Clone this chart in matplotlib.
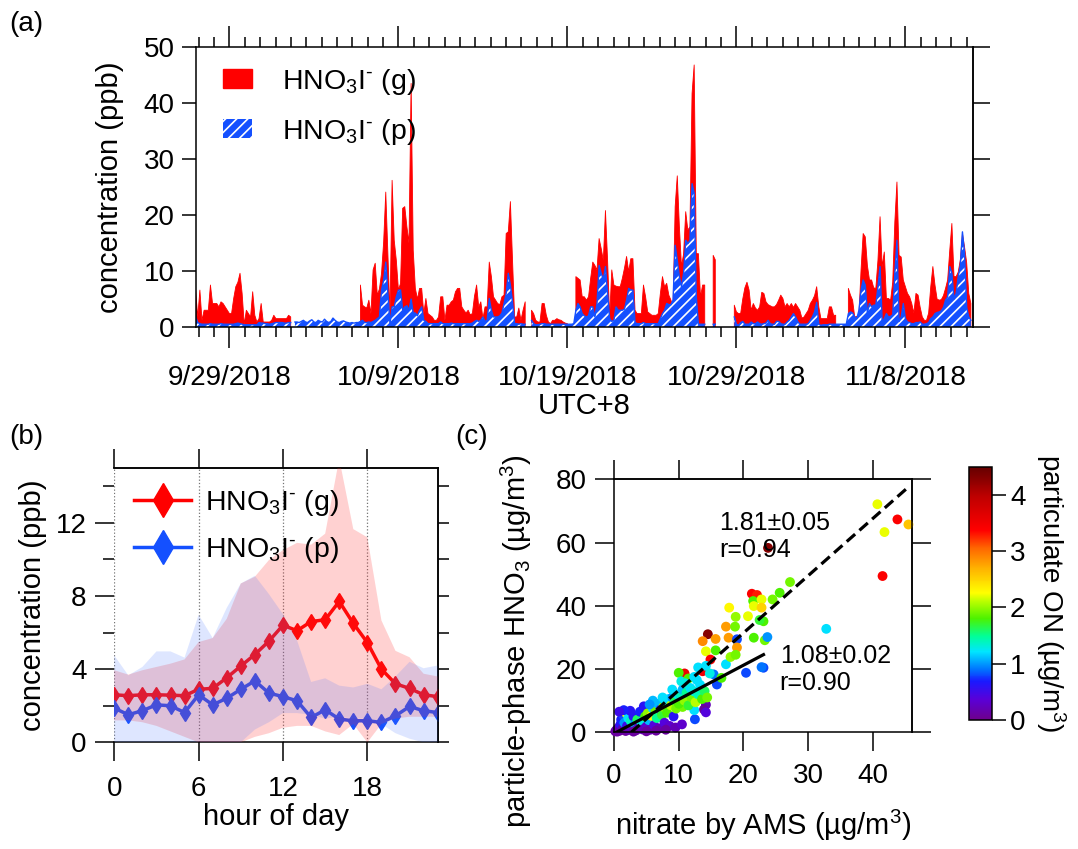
import numpy as np
import pandas as pd
import matplotlib
matplotlib.use('Agg')
import matplotlib.pyplot as plt
import matplotlib.dates as mdates
from matplotlib.colors import LinearSegmentedColormap
from matplotlib.patches import Patch
from matplotlib.lines import Line2D
from matplotlib.ticker import FixedLocator, FuncFormatter
from datetime import datetime

plt.rcParams['font.family'] = ['Liberation Sans', 'DejaVu Sans']
plt.rcParams['mathtext.fontset'] = 'custom'
plt.rcParams['mathtext.rm'] = 'Liberation Sans'
plt.rcParams['mathtext.it'] = 'Liberation Sans:italic'
plt.rcParams['mathtext.bf'] = 'Liberation Sans:bold'
plt.rcParams['font.size'] = 20
plt.rcParams['axes.labelsize'] = 21
plt.rcParams['axes.linewidth'] = 1.1
plt.rcParams['hatch.linewidth'] = 1.2
plt.rcParams['hatch.color'] = 'white'

nan = np.nan

# ---- (a) time series, 3-hourly, one row per day starting 9/27/2018 ----
gas_days = [
    [6.5, 1.8, 6.6, 1.2, 3.0, 3.0, 3.0, 7.5],
    [4.2, 4.2, 4.2, 3.6, 4.5, 4.2, 3.6, 3.0],
    [2.4, 2.4, 5.1, 7.2, 8.0, 9.6, 6.0, 0.5],
    [3.0, 2.4, 1.8, 6.3, 2.1, 0.9, 1.5, 4.2],
    [0.9, 0.9, 0.9, 0.9, 1.2, 2.1, 1.5, 1.5],
    [1.5, 1.5, 1.5, 1.5, 2.1, 1.8, nan, nan],
    [nan, nan, nan, nan, nan, nan, nan, nan],
    [nan, nan, nan, nan, nan, nan, nan, nan],
    [nan, nan, nan, nan, nan, nan, nan, nan],
    [nan, nan, nan, nan, nan, nan, 7.5, 3.9],
    [3.6, 3.4, 4.8, 2.4, 10.2, 11.4, 5.7, 6.8],
    [9.6, 15.2, 24.1, 13.1, 2.4, 26.2, 15.5, 11.9],
    [6.6, 7.8, 21.2, 21.5, 17.9, 15.0, 43.5, 13.7],
    [6.9, 5.0, 6.9, 6.9, 2.4, 5.1, 2.4, 2.1],
    [1.8, 1.2, 1.2, 1.8, 5.4, 5.4, 1.2, 3.9],
    [3.9, 4.5, 4.8, 6.3, 6.9, 6.9, 3.6, 3.0],
    [2.5, 3.0, 2.2, 2.4, 5.5, 7.5, 3.6, 4.5],
    [1.5, 3.6, 3.6, 11.6, 9.0, 5.4, 4.8, 4.2],
    [4.0, 5.4, 5.7, 16.7, 17.0, 22.4, 12.0, 1.8],
    [1.8, 3.4, 1.2, 3.0, 4.5, nan, nan, 3.0],
    [2.4, 1.2, 0.9, 0.9, 4.2, 4.2, 2.1, 0.9],
    [0.6, 1.2, 1.2, 1.5, 1.3, 1.2, 0.9, 0.7],
    [0.6, nan, nan, nan, 9.0, 8.7, 8.4, 5.4],
    [5.4, 4.8, 5.4, 8.7, 11.6, 11.0, 10.2, 15.8],
    [14.0, 11.9, 20.8, 12.0, 1.8, 10.2, 7.5, 7.3],
    [7.2, 7.2, 8.7, 10.5, 12.6, 9.9, 12.2, 12.2],
    [3.0, 2.4, 2.4, 2.4, 7.5, 5.4, 2.7, 2.4],
    [2.1, 2.1, 2.1, 2.4, 6.0, 9.0, 7.2, 7.8],
    [5.7, 4.8, 3.6, 21.5, 27.0, 17.9, 10.8, 13.1],
    [20.6, 17.3, 17.9, 41.7, 46.8, 13.1, 13.1, 5.4],
    [7.5, 7.5, nan, nan, nan, 12.8, 12.0, nan],
    [nan, nan, nan, nan, nan, nan, nan, 3.9],
    [2.7, 2.4, 2.4, 5.0, 7.0, 8.0, 6.6, 3.0],
    [4.2, 3.4, 3.0, 3.6, 6.2, 6.0, 4.5, 4.0],
    [3.8, 3.6, 3.6, 4.0, 4.8, 5.7, 5.1, 3.6],
    [4.2, 3.6, 4.2, 3.5, 4.2, 3.6, 3.0, 1.6],
    [1.8, 2.4, 3.0, 4.2, 4.8, 5.6, 7.2, 3.6],
    [1.5, 1.5, 1.5, 1.5, 3.6, 3.6, 2.1, 2.1],
    [nan, nan, nan, nan, nan, 6.9, 5.7, 4.8],
    [1.8, 1.9, 2.1, 10.2, 16.7, 16.1, 11.0, 8.4],
    [8.4, 7.0, 6.9, 11.9, 19.7, 10.8, 13.4, 5.1],
    [5.1, 4.8, 8.0, 18.8, 25.9, 12.8, 12.5, 8.4],
    [7.2, 6.0, 5.4, 4.2, 2.5, 6.0, 5.7, 3.5],
    [1.8, 1.2, 1.2, 2.5, 7.2, 10.8, 7.5, 5.0],
    [4.8, 4.9, 5.6, 6.9, 8.4, 13.7, 18.5, 9.0],
    [9.0, 9.8, 12.0, 16.7, 14.3, 11.5, 6.0, 4.2],
]
part_days = [
    [1.8, 0.8, 0.6, 0.5, 0.5, 0.5, 0.5, 0.6],
    [0.5, 0.5, 0.5, 0.5, 0.6, 0.5, 0.5, 0.5],
    [0.5, 0.5, 0.5, 0.6, 0.7, 0.6, 0.5, 0.4],
    [0.4, 0.4, 0.4, 0.4, 0.4, 0.4, 0.8, 0.7],
    [0.7, 0.6, 0.6, 0.5, 0.6, 0.7, 0.8, 0.8],
    [0.8, 0.8, 0.7, 0.7, 0.8, 0.8, nan, 0.9],
    [0.9, 0.8, 1.0, 1.2, 0.9, 0.8, 1.1, 1.3],
    [0.9, 0.8, 1.2, 1.0, 0.9, 1.4, 1.0, 0.8],
    [1.0, 1.6, 1.2, 0.9, 0.8, 1.0, 1.1, 0.9],
    [0.8, 0.7, 0.8, 0.7, 0.8, 0.8, 1.0, 1.2],
    [0.8, 0.8, 0.9, 0.8, 1.0, 1.2, 1.5, 1.8],
    [6.6, 8.4, 11.6, 6.0, 0.6, 3.6, 3.6, 5.4],
    [6.6, 6.6, 3.0, 3.6, 3.8, 3.0, 5.0, 2.5],
    [2.5, 2.0, 3.0, 3.6, 1.2, 1.0, 0.6, 0.6],
    [0.6, 0.6, 0.6, 0.6, 0.9, 0.6, 0.6, 0.6],
    [0.6, 0.7, 0.6, 0.6, 0.6, 0.6, 0.6, 0.6],
    [0.6, 0.6, 0.6, 0.7, 1.0, 1.2, 1.0, 1.2],
    [1.8, 1.0, 1.2, 5.1, 3.0, 1.8, 1.8, 1.8],
    [2.0, 2.5, 4.2, 6.0, 9.6, 7.5, 4.5, 0.6],
    [0.6, 0.5, 0.6, 0.5, 0.5, nan, nan, 1.2],
    [0.6, 0.4, 0.4, 0.5, 0.6, 0.6, 0.5, 0.5],
    [0.5, 0.5, 0.5, 0.5, 0.5, 0.5, 0.5, 0.5],
    [0.5, 0.5, 0.5, 0.6, 3.0, 4.2, 3.6, 2.4],
    [2.0, 1.8, 2.0, 3.6, 3.6, 1.8, 4.2, 11.0],
    [9.6, 8.5, 10.8, 6.0, 1.5, 1.0, 1.2, 3.6],
    [3.0, 3.0, 3.0, 3.2, 4.8, 6.9, 6.6, 6.6],
    [0.8, 0.6, 0.6, 0.6, 0.8, 0.6, 0.6, 0.6],
    [0.6, 0.6, 0.6, 0.6, 1.5, 2.4, 3.0, 4.2],
    [4.0, 4.0, 4.8, 14.6, 11.9, 9.0, 7.2, 9.6],
    [15.5, 14.9, 15.5, 25.6, 23.9, 5.4, 0.5, 0.5],
    [0.5, 0.5, nan, nan, nan, 0.5, 0.5, nan],
    [nan, nan, nan, nan, nan, nan, nan, 1.8],
    [0.5, 0.3, 0.8, 1.0, 0.5, 0.5, 0.5, 0.9],
    [0.6, 0.6, 0.9, 0.6, 0.5, 0.6, 0.7, 1.2],
    [0.6, 0.5, 0.5, 1.0, 1.0, 0.6, 0.5, 0.5],
    [0.9, 1.2, 1.8, 2.4, 1.8, 1.0, 0.5, 0.5],
    [0.5, 0.5, 0.6, 1.2, 1.8, 2.7, 4.4, 0.5],
    [0.3, 0.4, 0.4, 0.4, 0.5, 0.5, 0.5, 0.5],
    [0.5, 0.5, 0.5, 0.5, 0.5, 2.4, 2.7, 2.5],
    [1.8, 1.5, 3.0, 6.6, 8.4, 7.5, 2.5, 4.2],
    [3.6, 3.9, 3.9, 7.2, 10.8, 1.0, 1.5, 2.4],
    [1.8, 1.9, 2.2, 9.6, 15.5, 1.0, 1.8, 4.2],
    [1.5, 0.9, 0.8, 0.6, 0.6, 0.8, 0.8, 0.9],
    [0.5, 0.5, 0.6, 0.8, 1.5, 1.8, 2.4, 2.6],
    [2.7, 2.9, 3.5, 4.8, 5.4, 10.8, 9.6, 5.0],
    [6.0, 9.0, 11.0, 17.0, 13.1, 3.5, 1.8, 1.2],
]
date_ticks = ['2018-09-29', '2018-10-09', '2018-10-19', '2018-10-29', '2018-11-08']

# ---- (b) diurnal cycle ----
hours = list(range(24))
gas_mean = [2.6, 2.55, 2.6, 2.6, 2.58, 2.55, 2.9, 2.95, 3.53, 4.17, 4.8, 5.53,
            6.4, 6.1, 6.6, 6.7, 7.7, 6.5, 5.45, 4.0, 3.2, 2.95, 2.6, 2.5]
gas_hi = [3.94, 3.7, 3.94, 4.12, 4.3, 4.53, 5.48, 5.7, 6.75, 8.68, 9.05, 9.96,
          10.5, 10.9, 10.8, 11.4, 15.5, 11.65, 11.2, 6.66, 5.0, 4.65, 3.75, 3.6]
gas_lo = [1.2, 1.2, 1.1, 0.9, 0.6, 0.3, 0.0, 0.0, 0.0, 0.0, 0.3, 0.5,
          0.8, 0.9, 0.9, 0.6, 0.4, 1.0, 0.0, 1.0, 1.3, 1.4, 1.4, 1.4]
part_mean = [1.87, 1.51, 1.73, 2.05, 2.0, 1.63, 2.6, 2.05, 2.41, 2.9, 3.36, 2.69,
             2.5, 2.27, 1.36, 1.78, 1.27, 1.18, 1.18, 1.09, 1.45, 1.96, 1.73, 1.63]
part_hi = [4.75, 3.66, 4.12, 4.97, 4.97, 4.63, 6.97, 5.7, 7.35, 8.68, 9.1, 8.1,
           7.0, 5.57, 3.3, 3.5, 3.1, 3.0, 3.2, 2.9, 3.6, 4.4, 4.05, 4.2]
part_lo = [0, 0, 0, 0, 0, 0, 0, 0, 0, 0, 0.7, 1.1,
           1.6, 1.6, 1.5, 1.3, 1.4, 1.3, 1.3, 1.0, 0.5, 0.2, 0, 0]

# ---- (c) particle-phase HNO3 vs AMS nitrate, coloured by particulate ON ----
ams_no3 = [40.7, 43.8, 45.5, 41.8, 41.5, 23.8, 32.8, 27.2, 25.6, 24.5,
           21.3, 22.1, 21.5, 22.8, 21.6, 22.8, 17.8, 20.7, 18.8, 23.1, 22.5,
           17.3, 18.7, 14.5, 13.7, 15.7, 17.7, 21.6, 23.3, 23.7, 19.0,
           15.7, 14.2, 19.0, 17.3, 18.0, 18.8, 14.9, 13.7, 10.9, 10.0, 10.4, 11.5,
           12.4, 15.4, 15.9, 20.4, 23.1, 22.8, 14.2, 14.8, 16.6, 13.0,
           14.2, 13.9, 14.2, 12.5, 12.4, 10.6, 9.6,
           0.2, 0.4, 0.5, 0.7, 0.9, 1.0, 1.1, 1.3, 1.4, 1.6, 1.8, 1.9, 2.0, 2.2,
           2.4, 2.6, 2.8, 3.0, 3.2, 3.4, 3.6, 3.8, 4.0, 4.2, 4.4, 4.6, 4.8, 5.0,
           5.2, 5.4, 5.6, 5.8, 6.0, 6.2, 6.4, 6.6, 6.8, 7.0, 7.2, 7.4, 7.6, 7.8,
           8.0, 8.2, 8.4, 8.6, 8.8, 9.0, 9.2, 9.4, 9.6, 9.8, 10.0, 10.3, 10.6,
           10.9, 11.2, 11.5, 11.8, 12.0, 12.3, 12.6, 13.0, 13.3, 13.6, 14.0, 14.4,
           8.0, 6.5, 9.5, 10.5, 5.0, 3.0, 7.5, 6.0, 5.5, 9.0, 11.0, 12.8, 2.5,
           1.5, 0.8]
hno3_p = [72.1, 67.3, 65.7, 63.3, 49.4, 58.3, 32.7, 47.5, 44.1, 42.0,
          43.8, 43.4, 41.5, 42.0, 39.9, 39.4, 39.4, 36.7, 36.5, 35.1, 35.5,
          33.4, 33.4, 31.0, 28.8, 29.5, 29.9, 29.9, 29.1, 30.1, 29.4,
          25.9, 25.6, 26.8, 21.5, 23.8, 24.5, 23.0, 19.3, 18.6, 18.8, 16.1, 17.0,
          17.5, 18.3, 15.1, 18.8, 20.4, 20.6, 21.0, 18.6, 17.2, 20.5,
          8.7, 7.2, 6.3, 4.1, 7.0, 8.0, 9.0,
          0.3, 0.8, 0.2, 1.5, 0.5, 2.5, 4.0, 1.0, 5.5, 3.0, 0.4, 6.0, 2.0, 4.5,
          0.8, 3.5, 1.2, 5.0, 2.5, 0.6, 4.0, 1.5, 6.5, 3.2, 0.9, 8.2, 5.0, 1.8,
          6.0, 3.8, 0.8, 5.2, 7.5, 2.2, 6.8, 4.5, 9.0, 1.2, 7.2, 5.5, 8.0, 3.0,
          9.5, 6.2, 10.5, 2.0, 8.5, 11.0, 5.0, 10.0, 7.5, 12.0, 9.0, 11.5, 13.5,
          10.0, 12.5, 8.5, 14.0, 11.0, 13.0, 9.5, 12.0, 15.0, 10.5, 13.0, 11.0,
          0.8, 0.5, 1.5, 2.5, 0.3, 0.2, 11.0, 10.0, 8.8, 13.5, 15.5, 16.5, 6.8,
          7.0, 6.5]
part_on = [2.2, 3.4, 2.6, 2.2, 3.4, 4.3, 1.2, 1.9, 1.8, 1.9,
           3.4, 3.3, 1.8, 2.2, 2.2, 2.5, 2.3, 2.2, 2.0, 1.8, 1.7,
           2.8, 1.9, 4.3, 2.9, 2.8, 2.8, 1.8, 1.9, 1.0, 0.8,
           1.8, 2.2, 2.8, 1.2, 2.0, 1.9, 3.4, 3.5, 3.5, 1.8, 1.3, 1.8,
           1.2, 0.9, 0.8, 0.8, 0.8, 0.9, 1.2, 1.3, 1.8, 1.2,
           0.2, 0.1, 0.4, 0.8, 1.2, 1.9, 1.9,
           0.1, 0.2, 0.1, 0.3, 0.1, 0.6, 0.7, 0.2, 0.8, 1.0, 0.1, 2.2, 0.5, 1.2,
           0.2, 1.4, 0.3, 0.6, 1.0, 0.1, 1.6, 0.3, 0.7, 1.3, 0.2, 0.6, 1.8, 0.3,
           2.0, 1.1, 0.2, 2.3, 1.2, 0.4, 1.9, 1.5, 1.1, 0.2, 0.5, 1.7, 2.0, 0.4,
           1.3, 1.8, 1.2, 0.3, 2.1, 1.0, 0.6, 1.6, 1.9, 1.2, 1.8, 1.4, 1.1,
           2.0, 1.5, 1.7, 1.2, 1.9, 1.3, 2.1, 1.4, 1.2, 1.8, 1.6, 1.9,
           0.1, 0.1, 0.2, 0.3, 0.1, 0.1, 1.2, 1.1, 1.0, 1.2, 1.3, 1.2, 0.6,
           0.7, 0.5]
slope_all, icpt_all, x_all = 1.81, -4.8, (2.65, 45.5)
slope_low, icpt_low, x_low = 1.08, -0.4, (0.3, 23.1)

RED = '#ff0000'
BLUE = '#1450ff'
lab_g = r'HNO$_3$I$^{\text{-}}$ (g)'
lab_p = r'HNO$_3$I$^{\text{-}}$ (p)'

fig = plt.figure(figsize=(10.78, 8.49), dpi=100)

# ================= (a) =================
gas = np.ma.masked_invalid(np.array(gas_days, dtype=float).ravel())
part = np.ma.masked_invalid(np.array(part_days, dtype=float).ravel())
t = pd.date_range('2018-09-27', periods=gas.size, freq='3h')

ax_a = fig.add_axes([0.1815, 0.6148, 0.7211, 0.3298])
ax_a.fill_between(t, 0, gas, facecolor=RED, edgecolor=RED, lw=0.6)
ax_a.fill_between(t, 0, part, facecolor=BLUE, edgecolor='white', hatch='///', lw=0)
ax_a.plot(t, part, color=BLUE, lw=1.0)
ax_a.set_xlim(datetime(2018, 9, 27), datetime(2018, 11, 12))
ax_a.set_ylim(0, 50)
ax_a.set_yticks([0, 10, 20, 30, 40, 50])
major = [mdates.date2num(pd.Timestamp(d)) for d in date_ticks]
minor = major[0] + np.arange(-3, 50) * 10 / 11
lo, hi = ax_a.get_xlim()
ax_a.xaxis.set_major_locator(FixedLocator(major))
ax_a.xaxis.set_minor_locator(FixedLocator(minor[(minor >= lo) & (minor <= hi)]))


def date_fmt(v, pos):
    d = mdates.num2date(v)
    return f'{d.month}/{d.day}/{d.year}'


ax_a.xaxis.set_major_formatter(FuncFormatter(date_fmt))
ax_a.tick_params(axis='x', which='major', direction='out', length=15, width=1.1,
                 top=True, pad=12)
ax_a.tick_params(axis='x', which='minor', direction='out', length=7, width=1.1, top=True)
ax_a.tick_params(axis='y', direction='out', length=10, width=1.1, right=False, pad=5)
sec = ax_a.secondary_yaxis('right')
sec.set_yticks([0, 10, 20, 30, 40, 50])
sec.tick_params(direction='out', length=12, width=1.1, labelright=False)
ax_a.set_ylabel('concentration (ppb)', labelpad=14)
ax_a.set_xlabel('UTC+8', labelpad=1)
hand_a = [Patch(facecolor=RED, edgecolor=RED, label=lab_g),
          Patch(facecolor=BLUE, edgecolor='white', hatch='///', lw=0, label=lab_p)]
ax_a.legend(handles=hand_a, loc='upper left', bbox_to_anchor=(0.01, 1.0), frameon=False,
            fontsize=20.5, handlelength=1.0, handleheight=0.65, handletextpad=1.05,
            labelspacing=0.7, borderaxespad=0.3)

# ================= (b) =================
ax_b = fig.add_axes([0.106, 0.1256, 0.3, 0.3234])
ax_b.plot(hours, gas_mean, color=RED, lw=2.5, marker='d', ms=8.5, zorder=2)
ax_b.plot(hours, part_mean, color=BLUE, lw=2.5, marker='d', ms=8.5, zorder=2)
ax_b.fill_between(hours, gas_lo, gas_hi, facecolor='#ff3030', alpha=0.22, lw=0, zorder=3)
ax_b.fill_between(hours, part_lo, part_hi, facecolor='#4070ff', alpha=0.17, lw=0, zorder=3)
ax_b.set_xlim(0, 23)
ax_b.set_ylim(0, 15)
ax_b.set_xticks([0, 6, 12, 18])
ax_b.set_yticks([0, 4, 8, 12])
ax_b.set_yticks([2, 6, 10, 14], minor=True)
ax_b.xaxis.grid(True, linestyle=':', color='0.45', lw=0.9)
ax_b.spines['left'].set_visible(False)
ax_b.tick_params(axis='both', which='major', direction='out', length=14, width=1.1, pad=10)
ax_b.tick_params(axis='y', which='major', pad=6)
ax_b.tick_params(axis='y', which='minor', direction='out', length=8, width=1.1)
secy = ax_b.secondary_yaxis('right')
secy.set_yticks([0, 2, 4, 6, 8, 10, 12, 14])
secy.tick_params(direction='out', length=8, width=1.1, labelright=False)
secx = ax_b.secondary_xaxis('top')
secx.set_xticks([0, 6, 12, 18])
secx.tick_params(direction='out', length=14, width=1.1, labeltop=False)
ax_b.set_xlabel('hour of day', labelpad=1)
ax_b.set_ylabel('concentration (ppb)', labelpad=6)
hand_b = [Line2D([], [], color=RED, lw=2.5, marker='d', ms=17, label=lab_g),
          Line2D([], [], color=BLUE, lw=2.5, marker='d', ms=17, label=lab_p)]
ax_b.legend(handles=hand_b, loc='upper left', bbox_to_anchor=(0.0, 1.0), frameon=False,
            fontsize=20.5, handlelength=2.0, handletextpad=0.5, labelspacing=0.6,
            borderaxespad=0.3)

# ================= (c) =================
on_cmap = LinearSegmentedColormap.from_list('on', [
    (0.0, (0.43, 0.0, 0.55)), (0.08, (0.35, 0.0, 0.85)), (0.15, (0.1, 0.1, 1.0)),
    (0.2, (0.0, 0.45, 1.0)), (0.27, (0.0, 0.9, 1.0)), (0.33, (0.0, 1.0, 0.6)),
    (0.4, (0.3, 0.95, 0.0)), (0.47, (0.75, 1.0, 0.0)), (0.5, (1.0, 1.0, 0.0)),
    (0.6, (1.0, 0.7, 0.0)), (0.68, (1.0, 0.4, 0.0)), (0.75, (1.0, 0.0, 0.0)),
    (0.88, (0.75, 0.0, 0.0)), (1.0, (0.4, 0.0, 0.0))])

ax_c = fig.add_axes([0.5696, 0.1375, 0.2761, 0.298])
sc = ax_c.scatter(ams_no3, hno3_p, c=part_on, cmap=on_cmap, vmin=0, vmax=4.5, s=50,
                  edgecolors='none', clip_on=False, zorder=2)
xa = np.array(x_all)
xl = np.array(x_low)
ax_c.plot(xa, slope_all * xa + icpt_all, color='k', lw=2.3, ls=(0, (3.5, 1.8)), zorder=3)
ax_c.plot(xl, slope_low * xl + icpt_low, color='k', lw=2.3, zorder=3)
ax_c.text(16.3, 70.0, '1.81±0.05\nr=0.94', fontsize=18, va='top', linespacing=1.15)
ax_c.text(25.6, 28.0, '1.08±0.02\nr=0.90', fontsize=18, va='top', linespacing=1.15)
ax_c.set_xlim(0, 46)
ax_c.set_ylim(0, 80)
ax_c.set_xticks([0, 10, 20, 30, 40])
ax_c.set_yticks([0, 20, 40, 60, 80])
ax_c.tick_params(axis='both', direction='out', length=14, width=1.1, pad=8)
ax_c.tick_params(axis='y', pad=6)
sx = ax_c.secondary_xaxis('top')
sx.set_xticks([0, 10, 20, 30, 40])
sx.tick_params(direction='out', length=14, width=1.1, labeltop=False)
sy = ax_c.secondary_yaxis('right')
sy.set_yticks([0, 20, 40, 60, 80])
sy.tick_params(direction='out', length=14, width=1.1, labelright=False)
ax_c.set_xlabel('nitrate by AMS (µg/m$^3$)', labelpad=14)
ax_c.set_ylabel('particle-phase HNO$_3$ (µg/m$^3$)')
ax_c.yaxis.set_label_coords(-0.27, 0.36)

cax = fig.add_axes([0.8987, 0.1519, 0.0215, 0.2984])
cb = fig.colorbar(sc, cax=cax, ticks=[0, 1, 2, 3, 4])
cb.outline.set_linewidth(1.1)
cb.ax.tick_params(direction='out', length=10, width=1.1, labelsize=20, pad=3)
cb.ax.set_ylabel('particulate ON (µg/m$^3$)', rotation=270, va='bottom',
                 fontsize=20, labelpad=6)

fig.text(0.009, 0.972, '(a)', fontsize=20, va='center')
fig.text(0.009, 0.485, '(b)', fontsize=20, va='center')
fig.text(0.422, 0.485, '(c)', fontsize=20, va='center')

fig.savefig('out.png', dpi=100)
